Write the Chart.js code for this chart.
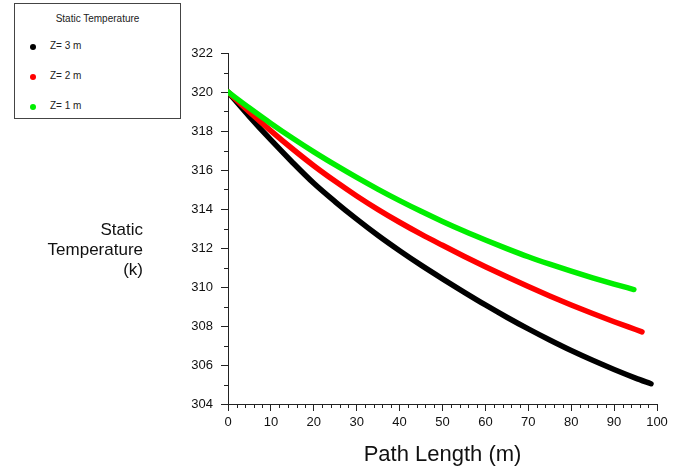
<!DOCTYPE html>
<html>
<head>
<meta charset="utf-8">
<script src="https://cdn.jsdelivr.net/npm/chart.js@4.4.0/dist/chart.umd.min.js"></script>
<style>
  html, body { margin: 0; padding: 0; background: #fff; }
  #wrap { position: relative; width: 682px; height: 468px; font-family: "Liberation Sans", Arial, sans-serif; }
  #c { position: absolute; left: 0; top: 0; }
  #legend { position: absolute; left: 14px; top: 3px; width: 167px; height: 116px; border: 1px solid #444; box-sizing: border-box; background: #fff; font-size: 10px; color: #222; }
  #legend .title { position: absolute; left: 0; width: 100%; top: 9px; text-align: center; }
  #legend .item { position: absolute; left: 35px; }
  #legend .dot { position: absolute; left: -20px; top: 4px; width: 6px; height: 6px; border-radius: 3px; }
  #ytitle { position: absolute; right: 539px; top: 220px; text-align: right; font-size: 17px; line-height: 20px; color: #111; }
</style>
</head>
<body>
<div id="wrap">
  <canvas id="c" width="682" height="468"></canvas>
  <div id="legend">
    <div class="title">Static Temperature</div>
    <div class="item" style="top:36px"><span class="dot" style="background:#000"></span>Z= 3 m</div>
    <div class="item" style="top:66px"><span class="dot" style="background:#ff0000"></span>Z= 2 m</div>
    <div class="item" style="top:96px"><span class="dot" style="background:#00ee00"></span>Z= 1 m</div>
  </div>
  <div id="ytitle">Static<br>Temperature<br>(k)</div>
</div>
<script>
const seriesNames = ["Z= 3 m", "Z= 2 m", "Z= 1 m"];
const seriesColors = ["#000000", "#ff0000", "#00ee00"];

const x3 = [0, 5, 10, 15, 20, 25, 30, 35, 40, 45, 50, 55, 60, 65, 70, 75, 80, 85, 90, 95, 98.6];
const t3 = [320, 318.74, 317.54, 316.40, 315.32, 314.37, 313.48, 312.64, 311.86, 311.12, 310.42, 309.74, 309.08, 308.45, 307.85, 307.28, 306.74, 306.24, 305.77, 305.33, 305.04];

const x2 = [0, 5, 10, 15, 20, 25, 30, 35, 40, 45, 50, 55, 60, 65, 70, 75, 80, 85, 90, 95, 96.5];
const t2 = [320, 318.98, 318.01, 317.09, 316.22, 315.42, 314.67, 313.97, 313.32, 312.71, 312.14, 311.58, 311.04, 310.52, 310.02, 309.54, 309.08, 308.64, 308.22, 307.82, 307.70];

const x1 = [0, 5, 10, 15, 20, 25, 30, 35, 40, 45, 50, 55, 60, 65, 70, 75, 80, 85, 90, 94.6];
const t1 = [320, 319.18, 318.39, 317.64, 316.93, 316.26, 315.62, 315.01, 314.43, 313.88, 313.36, 312.87, 312.41, 311.97, 311.55, 311.17, 310.81, 310.47, 310.15, 309.87];

const xTicks = [0, 10, 20, 30, 40, 50, 60, 70, 80, 90, 100];
const yTicks = [304, 306, 308, 310, 312, 314, 316, 318, 320, 322];
const xMinor = [2, 4, 6, 8, 12, 14, 16, 18, 22, 24, 26, 28, 32, 34, 36, 38, 42, 44, 46, 48, 52, 54, 56, 58, 62, 64, 66, 68, 72, 74, 76, 78, 82, 84, 86, 88, 92, 94, 96, 98];
const yMinor = [305, 307, 309, 311, 313, 315, 317, 319, 321];

function pts(xs, ys) { return xs.map((x, i) => ({ x: x, y: ys[i] })); }

const allX = [x3, x2, x1];
const allT = [t3, t2, t1];

const minorTicks = {
  id: 'minorTicks',
  afterDraw(chart) {
    const ctx = chart.ctx;
    const xs = chart.scales.x, ys = chart.scales.y;
    ctx.save();
    ctx.strokeStyle = '#222';
    ctx.lineWidth = 1;
    ctx.beginPath();
    const bottom = chart.chartArea.bottom, left = chart.chartArea.left;
    xMinor.forEach(v => {
      const p = Math.round(xs.getPixelForValue(v)) + 0.5;
      ctx.moveTo(p, bottom); ctx.lineTo(p, bottom + 4);
    });
    yMinor.forEach(v => {
      const p = Math.round(ys.getPixelForValue(v)) + 0.5;
      ctx.moveTo(left, p); ctx.lineTo(left - 4, p);
    });
    ctx.stroke();
    ctx.restore();
  }
};

new Chart(document.getElementById('c'), {
  type: 'line',
  data: {
    datasets: seriesNames.map((n, i) => ({
      label: n,
      data: pts(allX[i], allT[i]),
      borderColor: seriesColors[i],
      backgroundColor: seriesColors[i],
      borderWidth: 5.5,
      borderCapStyle: 'round',
      borderJoinStyle: 'round',
      pointRadius: 0,
      cubicInterpolationMode: 'monotone',
      fill: false,
      order: 2 - i
    }))
  },
  options: {
    responsive: false,
    animation: false,
    devicePixelRatio: 1,
    layout: { padding: { left: 0, top: 53, right: 25, bottom: 0 } },
    plugins: { legend: { display: false }, tooltip: { enabled: false } },
    scales: {
      x: {
        type: 'linear',
        min: 0, max: 100,
        afterFit: s => { s.height = 64; },
        afterBuildTicks: s => { s.ticks = xTicks.map(v => ({ value: v })); },
        grid: { drawOnChartArea: false, drawTicks: true, tickLength: 7, tickColor: '#222' },
        border: { display: true, color: '#222', width: 1 },
        ticks: { color: '#111', font: { family: 'Liberation Sans', size: 13 }, padding: 4, maxRotation: 0 },
        title: { display: true, text: 'Path Length (m)', color: '#111', font: { family: 'Liberation Sans', size: 22 }, padding: { top: 4, bottom: 0 } }
      },
      y: {
        type: 'linear',
        min: 304, max: 322,
        afterFit: s => { s.width = 228; },
        afterBuildTicks: s => { s.ticks = yTicks.map(v => ({ value: v })); },
        grid: { drawOnChartArea: false, drawTicks: true, tickLength: 7, tickColor: '#222' },
        border: { display: true, color: '#222', width: 1 },
        ticks: { color: '#111', font: { family: 'Liberation Sans', size: 13 }, padding: 8 }
      }
    }
  },
  plugins: [minorTicks]
});
</script>
</body>
</html>
